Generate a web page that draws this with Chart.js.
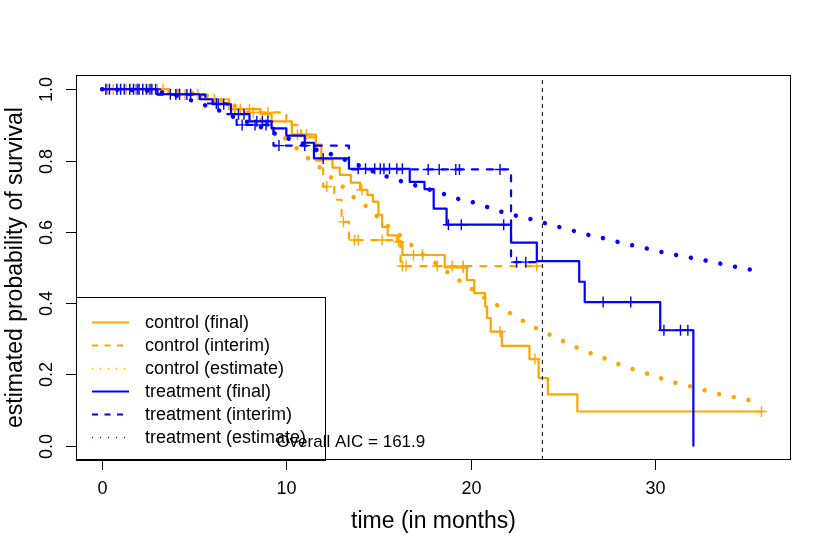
<!DOCTYPE html>
<html>
<head>
<meta charset="utf-8">
<script src="https://cdn.jsdelivr.net/npm/chart.js@4.4.1/dist/chart.umd.min.js"></script>
<style>
  html, body { margin: 0; padding: 0; background: #fff; }
  #wrap { width: 830px; height: 554px; }
</style>
</head>
<body>
<div id="wrap"><canvas id="plot" width="830" height="554"></canvas></div>
<script>
// Kaplan-Meier steps (time in months, survival)
const controlFinalTime = [0, 3.6, 5.4, 6.9, 8.6, 9.2, 10.3, 11.6, 11.9, 12.5, 12.9, 13.5, 14.0, 14.4, 14.7, 15.0, 15.2, 15.5, 16.0, 16.3, 18.6, 19.8, 20.2, 20.8, 20.9, 21.1, 21.7, 23.2, 23.7, 24.2, 25.8];
const controlFinalSurv = [1, 0.986, 0.972, 0.944, 0.93, 0.91, 0.873, 0.845, 0.803, 0.78, 0.76, 0.738, 0.718, 0.704, 0.685, 0.648, 0.614, 0.59, 0.572, 0.535, 0.50, 0.465, 0.428, 0.39, 0.358, 0.32, 0.28, 0.243, 0.19, 0.144, 0.096];
const controlFinalEnd = 35.8;
const controlFinalCensor = [0.2, 0.6, 1.0, 1.5, 2.0, 2.5, 3.0, 4.2, 4.8, 6.1, 7.5, 8.0, 10.6, 11.1, 14.1, 16.1, 16.9, 17.4, 19.6, 21.6, 23.5, 35.8];

const controlInterimTime = [0, 3.8, 6.0, 7.2, 10.0, 10.8, 11.6, 12.0, 12.6, 13.0, 13.4, 16.2];
const controlInterimSurv = [1, 0.985, 0.962, 0.935, 0.90, 0.865, 0.80, 0.727, 0.69, 0.628, 0.577, 0.504];
const controlInterimEnd = 23.6;
const controlInterimCensor = [0.3, 0.8, 1.3, 1.8, 2.2, 3.3, 4.5, 5.2, 8.2, 9.0, 12.2, 13.1, 13.7, 13.9, 15.2, 16.3, 16.5, 18.2, 19.0, 19.6, 23.6];

const treatmentFinalTime = [0, 3.0, 5.3, 6.0, 7.0, 8.0, 9.2, 10.0, 11.0, 11.5, 13.4, 16.7, 17.5, 18.0, 18.7, 22.2, 23.6, 25.9, 26.2, 30.3, 32.1];
const treatmentFinalSurv = [1, 0.986, 0.972, 0.958, 0.93, 0.91, 0.89, 0.87, 0.85, 0.806, 0.777, 0.74, 0.72, 0.665, 0.62, 0.57, 0.518, 0.46, 0.403, 0.324, 0];
const treatmentFinalEnd = 32.1;
const treatmentFinalCensor = [0.2, 0.8, 1.2, 1.5, 1.9, 2.2, 2.4, 2.6, 2.9, 3.7, 4.2, 4.8, 6.3, 6.6, 7.4, 7.7, 8.4, 8.7, 9.0, 12.0, 13.9, 14.3, 14.8, 15.1, 15.3, 15.6, 16.0, 16.3, 18.8, 19.5, 21.8, 27.2, 28.7, 30.5, 31.4, 31.8];

const treatmentInterimTime = [0, 3.0, 5.6, 6.8, 7.3, 9.3, 13.4, 22.2];
const treatmentInterimSurv = [1, 0.985, 0.96, 0.93, 0.90, 0.842, 0.775, 0.515];
const treatmentInterimEnd = 23.6;
const treatmentInterimCensor = [0.4, 1.0, 1.7, 2.0, 2.7, 4.0, 4.6, 6.2, 7.6, 8.3, 8.9, 9.6, 11.0, 17.7, 18.3, 19.2, 19.4, 21.6, 22.5, 23.0];

// Fitted (estimate) curves, read point by point
const controlEstTime = [0, 2.0, 3.7, 4.5, 5.3, 6.1, 6.8, 7.6, 8.4, 9.1, 9.8, 10.4, 11.0, 11.7, 12.3, 13.0, 13.6, 14.3, 14.9, 15.5, 16.2, 16.8, 17.4, 18.1, 18.8, 19.5, 20.2, 20.9, 21.6, 22.3, 23.0, 23.7, 24.5, 25.3, 26.0, 26.8, 27.6, 28.3, 29.2, 29.9, 30.7, 31.5, 32.4, 33.1, 34.0, 34.7, 35.6];
const controlEstSurv = [1, 0.999, 0.997, 0.993, 0.986, 0.975, 0.963, 0.944, 0.92, 0.896, 0.868, 0.842, 0.814, 0.786, 0.758, 0.73, 0.70, 0.673, 0.645, 0.617, 0.589, 0.563, 0.537, 0.512, 0.485, 0.46, 0.435, 0.41, 0.39, 0.367, 0.346, 0.326, 0.307, 0.287, 0.27, 0.254, 0.239, 0.223, 0.209, 0.197, 0.183, 0.172, 0.161, 0.149, 0.14, 0.132, 0.124];

const treatmentEstTime = [0, 2.0, 2.8, 3.7, 4.5, 5.3, 6.1, 6.8, 7.6, 8.4, 9.1, 9.9, 10.7, 11.4, 12.2, 13.8, 15.3, 18.5, 19.3, 20.2, 21.0, 21.7, 22.5, 23.4, 24.2, 25.0, 25.8, 26.6, 27.4, 28.2, 29.0, 30.6, 31.5, 32.3, 33.1, 33.9, 34.7, 35.6];
const treatmentEstSurv = [1, 0.997, 0.995, 0.986, 0.975, 0.96, 0.946, 0.93, 0.913, 0.899, 0.882, 0.865, 0.852, 0.834, 0.822, 0.789, 0.758, 0.707, 0.693, 0.682, 0.668, 0.656, 0.645, 0.634, 0.622, 0.611, 0.60, 0.589, 0.58, 0.569, 0.56, 0.541, 0.532, 0.524, 0.516, 0.507, 0.499, 0.49];

const interimCutTime = 23.9;
const aicText = 'Overall AIC = 161.9';

const xTicks = [0, 10, 20, 30];
const yTicks = [0, 0.2, 0.4, 0.6, 0.8, 1.0];
const yTickLabels = ['0.0', '0.2', '0.4', '0.6', '0.8', '1.0'];
const xTitle = 'time (in months)';
const yTitle = 'estimated probability of survival';
const legendLabels = ['control (final)', 'control (interim)', 'control (estimate)', 'treatment (final)', 'treatment (interim)', 'treatment (estimate)'];

const ORANGE = '#FFA500';
const BLUE = '#0000FF';
const FONT = '"Liberation Sans", Arial, Helvetica, sans-serif';
const xMin = -1.42, xMax = 37.4, yMin = -0.04, yMax = 1.04;

// KM step value at time t
function survAt(times, surv, t) {
  let s = surv[0];
  for (let i = 0; i < times.length; i++) {
    if (times[i] <= t) s = surv[i];
  }
  return s;
}

function stepPoints(times, surv, end) {
  const pts = times.map((t, i) => ({ x: t, y: surv[i] }));
  if (end > times[times.length - 1]) pts.push({ x: end, y: surv[surv.length - 1] });
  return pts;
}

function curvePoints(times, surv) {
  return times.map((t, i) => ({ x: t, y: surv[i] }));
}

function censorPoints(times, surv, cens) {
  return cens.map(t => ({ x: t, y: survAt(times, surv, t) }));
}

function stepSet(data, color, dash) {
  return { data, borderColor: color, borderWidth: 2.2, borderDash: dash, stepped: 'before',
    pointRadius: 0, fill: false, borderCapStyle: 'round', borderJoinStyle: 'round' };
}

function censorSet(data, color) {
  return { data, showLine: false, pointStyle: 'cross', pointRadius: 5.5,
    pointBorderColor: color, pointBorderWidth: 1.4, borderColor: color };
}

function estSet(data, color) {
  return { data, borderColor: color, borderWidth: 4.5, borderDash: [0.01, 15],
    borderCapStyle: 'round', cubicInterpolationMode: 'monotone', pointRadius: 0, fill: false };
}

// Draws the R-style box, axes, titles, legend and annotation
const rDecor = {
  id: 'rDecor',
  afterDatasetsDraw(chart) {
    const { ctx, chartArea: a, scales: { x, y } } = chart;
    ctx.save();
    ctx.strokeStyle = '#000';
    ctx.fillStyle = '#000';
    ctx.lineWidth = 1;
    ctx.setLineDash([]);

    // x axis ticks + labels
    ctx.font = '18px ' + FONT;
    ctx.textAlign = 'center';
    ctx.textBaseline = 'middle';
    xTicks.forEach(v => {
      const px = Math.round(x.getPixelForValue(v)) + 0.5;
      ctx.beginPath();
      ctx.moveTo(px, a.bottom);
      ctx.lineTo(px, a.bottom + 10);
      ctx.stroke();
      ctx.fillText(String(v), px, a.bottom + 29);
    });

    // y axis ticks + rotated labels
    yTicks.forEach((v, i) => {
      const py = Math.round(y.getPixelForValue(v)) + 0.5;
      ctx.beginPath();
      ctx.moveTo(a.left, py);
      ctx.lineTo(a.left - 10, py);
      ctx.stroke();
      ctx.save();
      ctx.translate(a.left - 29, py);
      ctx.rotate(-Math.PI / 2);
      ctx.fillText(yTickLabels[i], 0, 0);
      ctx.restore();
    });

    // axis titles
    ctx.font = '23px ' + FONT;
    ctx.fillText(xTitle, (a.left + a.right) / 2, 522);
    ctx.save();
    ctx.translate(16, (a.top + a.bottom) / 2);
    ctx.rotate(-Math.PI / 2);
    ctx.fillText(yTitle, 0, 0);
    ctx.restore();

    // legend box (bottom left)
    const lx = a.left, ly = 297, lw = 249, lh = a.bottom - ly;
    ctx.fillStyle = '#fff';
    ctx.fillRect(lx, ly, lw, lh);
    ctx.strokeStyle = '#000';
    ctx.strokeRect(lx + 0.5, ly + 0.5, lw, lh);
    const styles = [
      [ORANGE, []], [ORANGE, [6, 6.5]], [ORANGE, [1, 7]],
      [BLUE, []], [BLUE, [6, 6.5]], [BLUE, [1, 7]]
    ];
    ctx.font = '18px ' + FONT;
    ctx.textAlign = 'left';
    legendLabels.forEach((lab, i) => {
      const cy = 322 + i * 23;
      ctx.strokeStyle = styles[i][0];
      ctx.lineWidth = styles[i][1].length && styles[i][1][0] === 1 ? 1.6 : 2;
      ctx.setLineDash(styles[i][1]);
      ctx.beginPath();
      ctx.moveTo(92, cy + 0.5);
      ctx.lineTo(129, cy + 0.5);
      ctx.stroke();
      ctx.fillStyle = '#000';
      ctx.fillText(lab, 145, cy + 1);
    });
    ctx.setLineDash([]);

    // plot frame
    ctx.strokeStyle = '#000';
    ctx.lineWidth = 1;
    ctx.strokeRect(a.left + 0.5, a.top + 0.5, a.right - a.left - 1, a.bottom - a.top - 1);

    // annotation
    ctx.fillStyle = '#000';
    ctx.textAlign = 'center';
    ctx.font = '17px ' + FONT;
    ctx.fillText(aicText, x.getPixelForValue(13.5), y.getPixelForValue(0.01));
    ctx.restore();
  }
};

new Chart(document.getElementById('plot'), {
  type: 'line',
  data: {
    datasets: [
      { data: [{ x: interimCutTime, y: yMin }, { x: interimCutTime, y: yMax }], borderColor: '#000',
        borderWidth: 1, borderDash: [4, 4], pointRadius: 0 },
      censorSet(censorPoints(treatmentFinalTime, treatmentFinalSurv, treatmentFinalCensor), BLUE),
      stepSet(stepPoints(treatmentFinalTime, treatmentFinalSurv, treatmentFinalEnd), BLUE, []),
      censorSet(censorPoints(treatmentInterimTime, treatmentInterimSurv, treatmentInterimCensor), BLUE),
      stepSet(stepPoints(treatmentInterimTime, treatmentInterimSurv, treatmentInterimEnd), BLUE, [6, 9]),
      estSet(curvePoints(treatmentEstTime, treatmentEstSurv), BLUE),
      censorSet(censorPoints(controlFinalTime, controlFinalSurv, controlFinalCensor), ORANGE),
      stepSet(stepPoints(controlFinalTime, controlFinalSurv, controlFinalEnd), ORANGE, []),
      censorSet(censorPoints(controlInterimTime, controlInterimSurv, controlInterimCensor), ORANGE),
      stepSet(stepPoints(controlInterimTime, controlInterimSurv, controlInterimEnd), ORANGE, [6, 9]),
      estSet(curvePoints(controlEstTime, controlEstSurv), ORANGE)
    ]
  },
  options: {
    responsive: false,
    animation: false,
    devicePixelRatio: 1,
    layout: { padding: { left: 76, top: 75, right: 39, bottom: 94 } },
    scales: {
      x: { type: 'linear', min: xMin, max: xMax, display: false },
      y: { type: 'linear', min: yMin, max: yMax, display: false }
    },
    plugins: { legend: { display: false }, tooltip: { enabled: false } }
  },
  plugins: [rDecor]
});
</script>
</body>
</html>
